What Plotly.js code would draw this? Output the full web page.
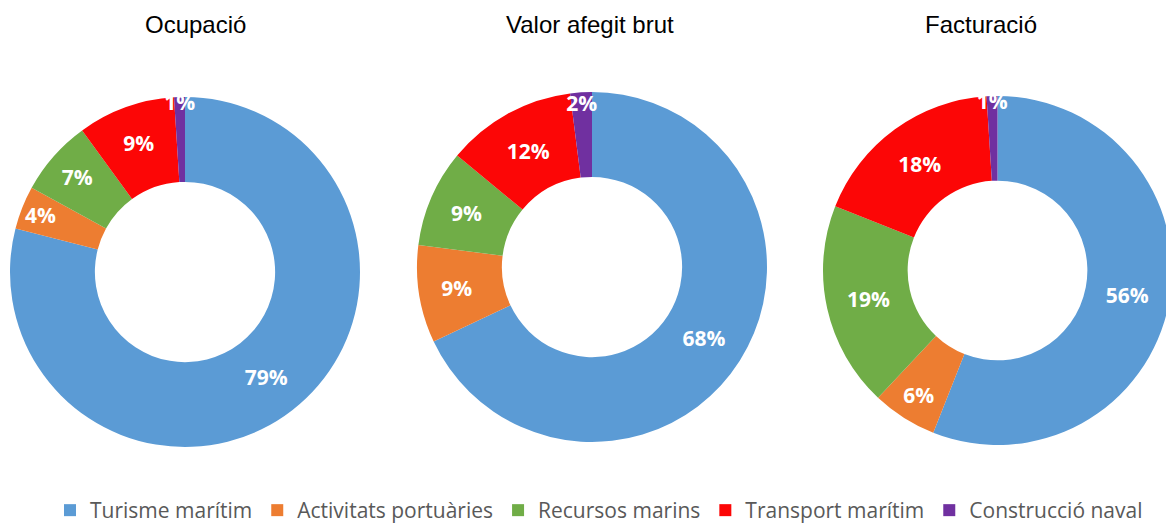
<!DOCTYPE html>
<html>
<head>
<meta charset="utf-8">
<script src="https://cdn.plot.ly/plotly-3.0.1.min.js"></script>
<style>
html, body { margin: 0; padding: 0; background: #fff; overflow: hidden; }
#chart { width: 1180px; height: 531px; }
</style>
</head>
<body>
<div id="chart"></div>
<script>
const categories = ["Turisme marítim", "Activitats portuàries", "Recursos marins", "Transport marítim", "Construcció naval"];
const chartTitles = ["Ocupació", "Valor afegit brut", "Facturació"];
const ocupacio = [79, 4, 7, 9, 1];
const valorAfegit = [68, 9, 9, 12, 2];
const facturacio = [56, 6, 19, 18, 1];
const colors = ["#5b9bd5", "#ed7d31", "#70ad47", "#fc0606", "#7030a0"];

const W = 1180, H = 531;
const seriesList = [ocupacio, valorAfegit, facturacio];
const domains = [
  {x: [10 / W, 360 / W], y: [84 / H, 434 / H]},
  {x: [417 / W, 767 / W], y: [89 / H, 439 / H]},
  {x: [823 / W, 1172 / W], y: [86 / H, 435 / H]}
];

const traces = seriesList.map((vals, i) => ({
  type: 'pie',
  labels: categories,
  values: vals,
  domain: domains[i],
  hole: 0.515,
  sort: false,
  direction: 'clockwise',
  rotation: 0,
  marker: {colors: colors, line: {width: 0}},
  texttemplate: '%{value}%',
  textposition: 'inside',
  insidetextorientation: 'horizontal',
  textfont: {family: 'Open Sans', size: 21, color: '#ffffff', weight: 'bold'},
  hoverinfo: 'label+percent',
  showlegend: i === 0
}));

const titleX = [195, 590, 981];
const annotations = chartTitles.map((t, i) => ({
  text: t,
  xref: 'paper', yref: 'paper',
  x: titleX[i] / W, y: 1 - 24 / H,
  xanchor: 'center', yanchor: 'middle',
  showarrow: false,
  font: {family: 'Liberation Sans, Arial, sans-serif', size: 24, color: '#000000'}
}));

const layout = {
  width: W, height: H,
  margin: {l: 0, r: 0, t: 0, b: 0, autoexpand: false},
  paper_bgcolor: '#ffffff',
  annotations: annotations,
  uniformtext: {mode: 'show', minsize: 21},
  showlegend: true,
  legend: {
    orientation: 'h',
    x: 599 / W, xanchor: 'center',
    y: 0, yanchor: 'bottom',
    font: {family: 'Open Sans', size: 21, color: '#595959'},
    traceorder: 'normal'
  }
};

Plotly.newPlot('chart', traces, layout, {displayModeBar: false, staticPlot: true});
</script>
</body>
</html>
